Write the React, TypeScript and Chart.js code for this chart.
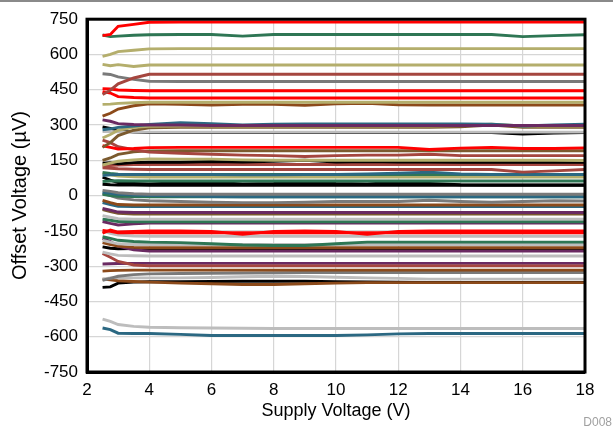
import { useEffect, useRef } from 'react';
import { Chart, registerables } from 'chart.js';

Chart.register(...registerables);

const FONT = "'Liberation Sans', Arial, Helvetica, sans-serif";

// Supply voltage sample points (V)
const supplyV = [2.5, 2.75, 3, 3.5, 4, 5, 6, 7, 8, 9, 10, 11, 12, 13, 14, 15, 16, 17, 18];

// Axis ticks
const xTicks = [2, 4, 6, 8, 10, 12, 14, 16, 18];
const yTicks = [-750, -600, -450, -300, -150, 0, 150, 300, 450, 600, 750];

// Colours
const RED = '#ff0000';
const GREEN = '#2e7654';
const KHAKI = '#b4ae6c';
const IRED = '#a5463f';
const GRAY = '#7a7a7a';
const BROWN = '#8c4a1a';
const OLIVE = '#7b5a2e';
const PURPLE = '#6a2a62';
const BLUE = '#2b6882';
const BLACK = '#000000';
const LGRAY = '#bdbdbd';

// Offset voltage per unit (µV), one array per unit
const u01 = [680, 685, 720, 728, 737, 738, 738, 738, 738, 738, 738, 738, 738, 738, 738, 738, 738, 738, 738];
const u02 = [683, 676, 678, 682, 684, 685, 685, 678, 685, 685, 685, 685, 685, 685, 685, 685, 676, 680, 684];
const u03 = [592, 600, 612, 618, 624, 625, 625, 625, 625, 625, 625, 625, 625, 625, 625, 625, 625, 625, 625];
const u04 = [558, 552, 557, 549, 555, 555, 555, 555, 555, 555, 555, 555, 555, 555, 555, 555, 555, 555, 555];
const u05 = [430, 448, 475, 500, 516, 516, 516, 516, 516, 516, 516, 516, 516, 516, 516, 516, 516, 516, 516];
const u06 = [518, 515, 505, 494, 486, 485, 485, 485, 485, 485, 485, 485, 485, 485, 485, 485, 485, 485, 485];
const u07 = [455, 453, 449, 447, 446, 446, 446, 446, 446, 446, 446, 446, 446, 446, 446, 446, 446, 446, 446];
const u08 = [442, 436, 421, 417, 415, 415, 415, 415, 415, 415, 415, 415, 415, 415, 415, 415, 415, 415, 415];
const u09 = [388, 389, 392, 395, 397, 397, 397, 397, 397, 397, 397, 397, 397, 397, 397, 397, 397, 397, 397];
const u10 = [338, 350, 368, 382, 390, 388, 385, 388, 388, 384, 390, 392, 386, 385, 385, 385, 385, 385, 385];
const u11 = [322, 316, 306, 302, 300, 300, 298, 298, 298, 298, 298, 298, 298, 298, 298, 298, 298, 298, 298];
const u12 = [280, 284, 290, 296, 302, 310, 306, 300, 304, 305, 305, 305, 305, 305, 305, 304, 296, 300, 304];
const u13 = [245, 260, 278, 290, 295, 296, 296, 296, 296, 296, 296, 296, 296, 296, 298, 304, 296, 296, 296];
const u14 = [205, 225, 255, 278, 288, 290, 290, 290, 290, 290, 290, 290, 290, 290, 293, 300, 290, 290, 290];
const u15 = [272, 272, 271, 270, 270, 270, 270, 270, 270, 270, 270, 270, 270, 270, 270, 270, 270, 270, 270];
const u16 = [292, 286, 276, 270, 268, 268, 268, 268, 268, 268, 268, 268, 268, 268, 268, 268, 262, 266, 268];
const u17 = [212, 205, 198, 200, 204, 205, 205, 205, 205, 205, 205, 205, 205, 196, 202, 205, 200, 200, 203];
const u18 = [236, 225, 208, 195, 185, 180, 176, 172, 170, 166, 170, 172, 172, 176, 170, 170, 170, 170, 170];
const u19 = [150, 160, 175, 186, 190, 191, 191, 191, 191, 191, 191, 191, 191, 191, 191, 191, 191, 191, 191];
const u20 = [130, 138, 146, 152, 156, 155, 155, 152, 150, 150, 150, 150, 150, 150, 150, 150, 150, 150, 149];
const u21 = [138, 140, 135, 140, 142, 142, 145, 143, 146, 150, 143, 145, 143, 143, 142, 142, 142, 142, 142];
const u22 = [125, 128, 130, 132, 132, 132, 132, 132, 132, 132, 132, 132, 132, 132, 132, 132, 132, 132, 132];
const u23 = [118, 116, 114, 112, 111, 111, 111, 111, 111, 111, 111, 111, 111, 111, 111, 111, 100, 105, 111];
const u24 = [85, 88, 90, 90, 90, 90, 90, 88, 88, 90, 90, 92, 95, 100, 92, 90, 90, 90, 90];
const u25 = [98, 94, 91, 90, 90, 90, 90, 90, 90, 90, 90, 90, 90, 90, 90, 90, 90, 90, 90];
const u26 = [92, 88, 83, 80, 79, 79, 79, 79, 79, 79, 79, 79, 79, 79, 79, 79, 79, 79, 79];
const u27 = [60, 62, 63, 62, 62, 62, 62, 62, 62, 62, 62, 62, 62, 62, 62, 62, 62, 62, 62];
const u28 = [78, 66, 55, 52, 50, 55, 57, 50, 52, 57, 52, 50, 57, 52, 46, 45, 45, 45, 45];
const u29 = [48, 46, 45, 45, 44, 44, 44, 44, 44, 44, 44, 44, 44, 44, 44, 44, 44, 44, 44];
const u30 = [22, 18, 12, 8, 6, 6, 6, 6, 6, 6, 6, 6, 6, 6, 6, 6, 6, 6, 6];
const u31 = [15, 10, 5, 2, 0, -2, -4, -5, -5, -5, -5, -5, -5, -5, -5, -5, -5, -5, -5];
const u32 = [5, 0, -3, -4, -5, -5, -5, -5, -5, -5, -5, -5, -5, -5, -5, -5, -5, -5, -5];
const u33 = [10, 0, -10, -18, -22, -25, -28, -30, -30, -28, -25, -25, -25, -20, -25, -28, -25, -22, -23];
const u34 = [-20, -30, -38, -40, -40, -40, -40, -40, -40, -40, -40, -40, -40, -40, -40, -40, -40, -40, -40];
const u35 = [-30, -38, -45, -47, -47, -47, -47, -47, -47, -47, -47, -47, -47, -47, -47, -47, -47, -47, -47];
const u36 = [-55, -62, -70, -72, -72, -72, -72, -72, -72, -72, -72, -72, -72, -72, -72, -72, -72, -72, -72];
const u37 = [-60, -68, -75, -78, -78, -78, -78, -78, -78, -78, -78, -78, -78, -78, -78, -78, -78, -78, -78];
const u38 = [-85, -92, -98, -100, -100, -100, -100, -100, -100, -100, -100, -100, -100, -100, -100, -100, -100, -100, -100];
const u39 = [-100, -105, -110, -111, -111, -111, -111, -111, -111, -111, -111, -111, -111, -111, -111, -111, -111, -111, -111];
const u40 = [-110, -118, -125, -120, -117, -117, -117, -117, -117, -117, -117, -117, -117, -117, -117, -117, -117, -117, -117];
const u41 = [-160, -146, -155, -152, -150, -150, -152, -165, -152, -150, -152, -165, -152, -150, -150, -150, -150, -150, -150];
const u42 = [-148, -152, -158, -158, -158, -158, -158, -158, -158, -158, -158, -158, -158, -158, -158, -158, -158, -158, -158];
const u43 = [-150, -160, -168, -172, -173, -173, -173, -173, -173, -173, -173, -173, -173, -173, -173, -173, -173, -173, -173];
const u44 = [-175, -182, -190, -195, -198, -200, -205, -210, -212, -212, -205, -198, -198, -198, -198, -198, -198, -198, -198];
const u45 = [-190, -198, -205, -208, -208, -208, -208, -208, -208, -208, -208, -208, -208, -208, -208, -208, -208, -208, -208];
const u46 = [-200, -208, -215, -220, -222, -222, -222, -222, -222, -222, -222, -222, -222, -222, -222, -222, -222, -222, -222];
const u47 = [-182, -195, -215, -230, -236, -236, -236, -236, -236, -236, -236, -236, -236, -236, -236, -236, -236, -236, -236];
const u48 = [-218, -224, -226, -225, -225, -225, -225, -225, -225, -225, -225, -225, -225, -225, -225, -225, -225, -225, -225];
const u49 = [-240, -248, -254, -256, -257, -257, -257, -257, -257, -257, -257, -257, -257, -257, -257, -257, -257, -257, -257];
const u50 = [-246, -262, -280, -295, -299, -299, -299, -299, -299, -299, -299, -299, -299, -299, -299, -299, -299, -299, -299];
const u51 = [-291, -290, -289, -288, -288, -288, -288, -288, -288, -288, -288, -288, -288, -288, -288, -288, -288, -288, -288];
const u52 = [-321, -319, -318, -317, -317, -317, -317, -317, -317, -317, -317, -317, -317, -317, -317, -317, -317, -317, -317];
const u53 = [-360, -352, -343, -336, -333, -331, -330, -329, -328, -327, -327, -327, -327, -327, -327, -327, -327, -327, -327];
const u54 = [-355, -350, -350, -350, -350, -350, -348, -345, -343, -344, -347, -350, -352, -355, -355, -355, -355, -355, -355];
const u55 = [-355, -358, -362, -365, -368, -372, -375, -378, -378, -375, -372, -370, -370, -370, -370, -370, -370, -370, -370];
const u56 = [-390, -388, -372, -368, -366, -366, -365, -364, -364, -364, -366, -367, -368, -369, -369, -369, -369, -369, -369];
const u57 = [-525, -535, -548, -556, -560, -562, -563, -564, -565, -565, -565, -565, -565, -565, -565, -565, -565, -565, -565];
const u58 = [-563, -570, -585, -586, -586, -590, -595, -595, -595, -595, -595, -592, -588, -586, -586, -586, -586, -586, -586];

const SERIES: { color: string; values: number[] }[] = [
  { color: RED, values: u01 }, { color: GREEN, values: u02 }, { color: KHAKI, values: u03 },
  { color: KHAKI, values: u04 }, { color: IRED, values: u05 }, { color: GRAY, values: u06 },
  { color: RED, values: u07 }, { color: RED, values: u08 }, { color: KHAKI, values: u09 },
  { color: BROWN, values: u10 }, { color: PURPLE, values: u11 }, { color: BLUE, values: u12 },
  { color: KHAKI, values: u13 }, { color: OLIVE, values: u14 }, { color: LGRAY, values: u15 },
  { color: BLACK, values: u16 }, { color: RED, values: u17 }, { color: IRED, values: u18 },
  { color: OLIVE, values: u19 }, { color: KHAKI, values: u20 }, { color: BLACK, values: u21 },
  { color: IRED, values: u22 }, { color: IRED, values: u23 }, { color: BLUE, values: u24 },
  { color: GREEN, values: u25 }, { color: KHAKI, values: u26 }, { color: GREEN, values: u27 },
  { color: BLACK, values: u28 }, { color: BLACK, values: u29 }, { color: GRAY, values: u30 },
  { color: BLUE, values: u31 }, { color: GREEN, values: u32 }, { color: GRAY, values: u33 },
  { color: BROWN, values: u34 }, { color: BLUE, values: u35 }, { color: PURPLE, values: u36 },
  { color: OLIVE, values: u37 }, { color: LGRAY, values: u38 }, { color: GREEN, values: u39 },
  { color: PURPLE, values: u40 }, { color: RED, values: u41 }, { color: RED, values: u42 },
  { color: LGRAY, values: u43 }, { color: GREEN, values: u44 }, { color: LGRAY, values: u45 },
  { color: BROWN, values: u46 }, { color: PURPLE, values: u47 }, { color: BLACK, values: u48 },
  { color: LGRAY, values: u49 }, { color: IRED, values: u50 }, { color: PURPLE, values: u51 },
  { color: BROWN, values: u52 }, { color: GRAY, values: u53 }, { color: LGRAY, values: u54 },
  { color: BROWN, values: u55 }, { color: BLACK, values: u56 }, { color: LGRAY, values: u57 },
  { color: BLUE, values: u58 },
];

const framePlugin = {
  id: 'frame',
  afterDatasetsDraw(chart: any) {
    const { ctx, chartArea } = chart;
    ctx.save();
    ctx.strokeStyle = '#000';
    ctx.lineWidth = 3;
    ctx.strokeRect(chartArea.left, chartArea.top, chartArea.right - chartArea.left, chartArea.bottom - chartArea.top);
    ctx.restore();
  },
};

export default function App() {
  const ref = useRef<HTMLCanvasElement>(null);

  useEffect(() => {
    if (!ref.current) return;
    Chart.defaults.font.family = FONT;
    const chart = new Chart(ref.current, {
      type: 'line',
      data: {
        datasets: SERIES.map((s, k) => ({
          label: 'Unit ' + (k + 1),
          data: supplyV.map((x, i) => ({ x, y: s.values[i] })),
          borderColor: s.color,
          backgroundColor: s.color,
          borderWidth: 2.9,
          pointRadius: 0,
          tension: 0,
          fill: false,
        })),
      },
      options: {
        responsive: false,
        animation: false,
        events: [],
        layout: { padding: { left: 8, right: 28, top: 17, bottom: 11 } },
        plugins: { legend: { display: false }, tooltip: { enabled: false } },
        scales: {
          x: {
            type: 'linear',
            min: xTicks[0],
            max: xTicks[xTicks.length - 1],
            afterBuildTicks: (s: any) => { s.ticks = xTicks.map((v) => ({ value: v })); },
            afterFit: (s: any) => { s.height = 50; },
            ticks: { color: '#000', padding: 8, font: { size: 17, family: FONT } },
            grid: { color: '#d6d6d6', lineWidth: 1.2, drawTicks: false },
            border: { color: '#000', width: 3 },
            title: { display: true, text: 'Supply Voltage (V)', color: '#000', padding: 0, font: { size: 18, family: FONT } },
          },
          y: {
            type: 'linear',
            min: yTicks[0],
            max: yTicks[yTicks.length - 1],
            afterBuildTicks: (s: any) => { s.ticks = yTicks.map((v) => ({ value: v })); },
            afterFit: (s: any) => { s.width = 79; },
            ticks: { color: '#000', padding: 9, font: { size: 17, family: FONT } },
            grid: { color: '#d6d6d6', lineWidth: 1.2, drawTicks: false },
            border: { color: '#000', width: 3 },
            title: { display: true, text: 'Offset Voltage (\u00b5V)', color: '#000', padding: 0, font: { size: 20, family: FONT } },
          },
        },
      },
      plugins: [framePlugin],
    } as any);
    return () => chart.destroy();
  }, []);

  return (
    <div style={{ position: 'fixed', left: 0, top: 0, width: 613, height: 433, background: '#fff', overflow: 'hidden' }}>
      <canvas ref={ref} width={613} height={433} style={{ display: 'block', width: 613, height: 433 }} />
      <div style={{ position: 'absolute', left: 0, top: 0, width: 613, height: 2, background: '#8a8a8a' }} />
      <div style={{ position: 'absolute', right: 1, top: 415, fontFamily: FONT, fontSize: 12, color: '#a0a0a0', lineHeight: '14px' }}>D008</div>
    </div>
  );
}
